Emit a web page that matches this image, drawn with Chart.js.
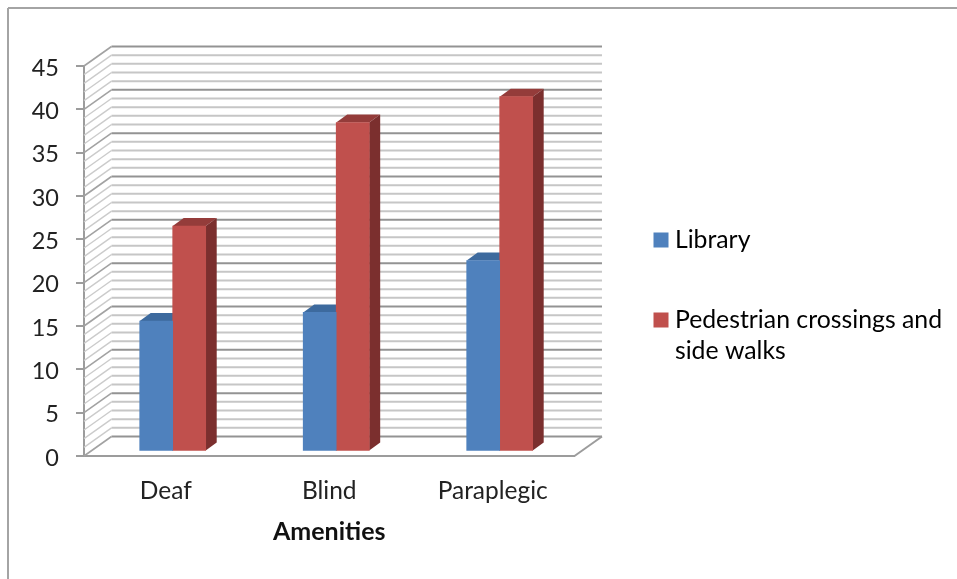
<!DOCTYPE html>
<html>
<head>
<meta charset="utf-8">
<title>Amenities</title>
<style>
  html, body { margin: 0; padding: 0; background: #fff; }
  canvas { display: block; }
</style>
</head>
<body>
<canvas id="amenitiesChart" width="957" height="579"></canvas>
<script src="https://cdn.jsdelivr.net/npm/chart.js@4"></script>
<script>
const categories = ['Deaf', 'Blind', 'Paraplegic'];
const libraryValues = [15, 16, 22];
const crossingValues = [26, 38, 41];
const libraryLabel = ['Library'];
const crossingLabel = ['Pedestrian crossings and', 'side walks'];
const axisTitle = 'Amenities';

const textColor = '#222222';
const axisColor = '#9c9c9c';
const fontFamily = 'Lato, sans-serif';

// face, top and side shades of each bar series
const barColors = [
    { face: '#4f81bd', top: '#3d6a9e', side: '#345a87' },
    { face: '#c0504d', top: '#943c3a', side: '#7b2f2e' },
];

// how far the back wall and the bar depth are pushed away from the front
const wallDepth = { x: 27.5, y: -19.5 };
const barDepth = { x: 11, y: -8 };

function strokeLine(ctx, x1, y1, x2, y2, color, width) {
    ctx.strokeStyle = color;
    ctx.lineWidth = width;
    ctx.beginPath();
    ctx.moveTo(x1, y1);
    ctx.lineTo(x2, y2);
    ctx.stroke();
}

function fillShape(ctx, points, color) {
    ctx.fillStyle = color;
    ctx.beginPath();
    points.forEach(([x, y], i) => (i ? ctx.lineTo(x, y) : ctx.moveTo(x, y)));
    ctx.closePath();
    ctx.fill();
}

// outer frame, only top and left are visible
const framePlugin = {
    id: 'frame',
    beforeDraw(chart) {
        const { ctx, width, height } = chart;
        ctx.save();
        strokeLine(ctx, 8, 8, width, 8, '#a4a4a4', 2);
        strokeLine(ctx, 8, 8, 8, height, '#a4a4a4', 2);
        ctx.restore();
    },
};

// side wall, back wall and floor behind the bars
const wallsPlugin = {
    id: 'walls',
    beforeDatasetsDraw(chart) {
        const { ctx, scales, chartArea } = chart;
        const yScale = scales.y;
        ctx.save();
        for (let value = yScale.max; value >= yScale.min; value -= 1) {
            const major = value % 5 === 0;
            const y = yScale.getPixelForValue(value);
            const backY = y + wallDepth.y;
            const left = chartArea.left;
            const backLeft = left + wallDepth.x;
            const backRight = chartArea.right + wallDepth.x;
            strokeLine(ctx, left, y, backLeft, backY, major ? '#a2a2a2' : '#cbcbcb', major ? 1.6 : 1.4);
            strokeLine(ctx, backLeft, backY, backRight, backY, major ? '#939393' : '#c6c6c6', 2);
        }
        const bottom = chartArea.bottom;
        strokeLine(ctx, chartArea.right, bottom, chartArea.right + wallDepth.x, bottom + wallDepth.y, axisColor, 2);
        ctx.restore();
    },
};

// tops and right sides of the bars, the faces are drawn over them by the library
const barDepthPlugin = {
    id: 'barDepth',
    beforeDatasetsDraw(chart) {
        const { ctx } = chart;
        ctx.save();
        chart.data.datasets.forEach((dataset, index) => {
            chart.getDatasetMeta(index).data.forEach((bar) => {
                const left = bar.x - bar.width / 2;
                const right = bar.x + bar.width / 2;
                const shades = barColors[index];
                fillShape(ctx, [
                    [left, bar.y],
                    [left + barDepth.x, bar.y + barDepth.y],
                    [right + barDepth.x, bar.y + barDepth.y],
                    [right, bar.y],
                ], shades.top);
                fillShape(ctx, [
                    [right, bar.y],
                    [right + barDepth.x, bar.y + barDepth.y],
                    [right + barDepth.x, bar.base + barDepth.y],
                    [right, bar.base],
                ], shades.side);
            });
        });
        ctx.restore();
    },
};

// the legend keeps its slot on the right but sits lower and further in
const legendPlacement = {
    id: 'legendPlacement',
    afterLayout(chart) {
        chart.legend.left = 610.5;
        chart.legend.right = chart.width;
        chart.legend.top = 178.6;
        chart.legend.bottom = chart.height;
    },
};

new Chart(document.getElementById('amenitiesChart'), {
    type: 'bar',
    data: {
        labels: categories,
        datasets: [
            {
                label: libraryLabel.join(' '),
                data: libraryValues.map((y, x) => ({ x, y })),
                backgroundColor: barColors[0].face,
                xAxisID: 'barX',
                yAxisID: 'barY',
            },
            {
                label: crossingLabel.join(' '),
                data: crossingValues.map((y, x) => ({ x, y })),
                backgroundColor: barColors[1].face,
                xAxisID: 'barX',
                yAxisID: 'barY',
            },
        ],
    },
    options: {
        responsive: false,
        animation: false,
        barThickness: 33,
        layout: { padding: { top: 66, left: 0, right: 41, bottom: 0 } },
        plugins: {
            tooltip: { enabled: false },
            legend: {
                position: 'right',
                align: 'start',
                maxWidth: 382,
                labels: {
                    // small box with a thick outline keeps the text close to the swatch
                    boxWidth: 3,
                    boxHeight: 3,
                    padding: 49,
                    color: textColor,
                    font: { family: fontFamily, size: 24.8, lineHeight: 1.25 },
                    generateLabels: () => [libraryLabel, crossingLabel].map((text, i) => ({
                        text,
                        fillStyle: barColors[i].face,
                        strokeStyle: barColors[i].face,
                        lineWidth: 12,
                        datasetIndex: i,
                    })),
                },
            },
        },
        scales: {
            x: {
                type: 'category',
                grid: { drawOnChartArea: false, drawTicks: false },
                border: { color: axisColor, width: 2 },
                ticks: {
                    color: textColor,
                    padding: 20,
                    maxRotation: 0,
                    font: { family: fontFamily, size: 24.5 },
                },
                title: {
                    display: true,
                    text: axisTitle,
                    color: '#111111',
                    padding: { top: 0, bottom: 32 },
                    font: { family: fontFamily, size: 25, weight: 'bold' },
                },
                afterFit(scale) { scale.height = 123; },
            },
            y: {
                min: 0,
                max: 45,
                grid: { drawOnChartArea: false, color: axisColor, tickLength: 8, lineWidth: 2 },
                border: { color: axisColor, width: 2 },
                ticks: {
                    stepSize: 5,
                    color: textColor,
                    padding: 17,
                    labelOffset: 2,
                    font: { family: fontFamily, size: 23.5 },
                },
                afterFit(scale) { scale.width = 84; },
            },
            // bars stand in the middle of the floor, so they get their own hidden scales
            barX: { type: 'linear', display: false, offset: false, min: -0.5426, max: 2.4574 },
            barY: { type: 'linear', display: false, min: -0.637, max: 44.55 },
        },
    },
    plugins: [framePlugin, wallsPlugin, barDepthPlugin, legendPlacement],
});
</script>
</body>
</html>
